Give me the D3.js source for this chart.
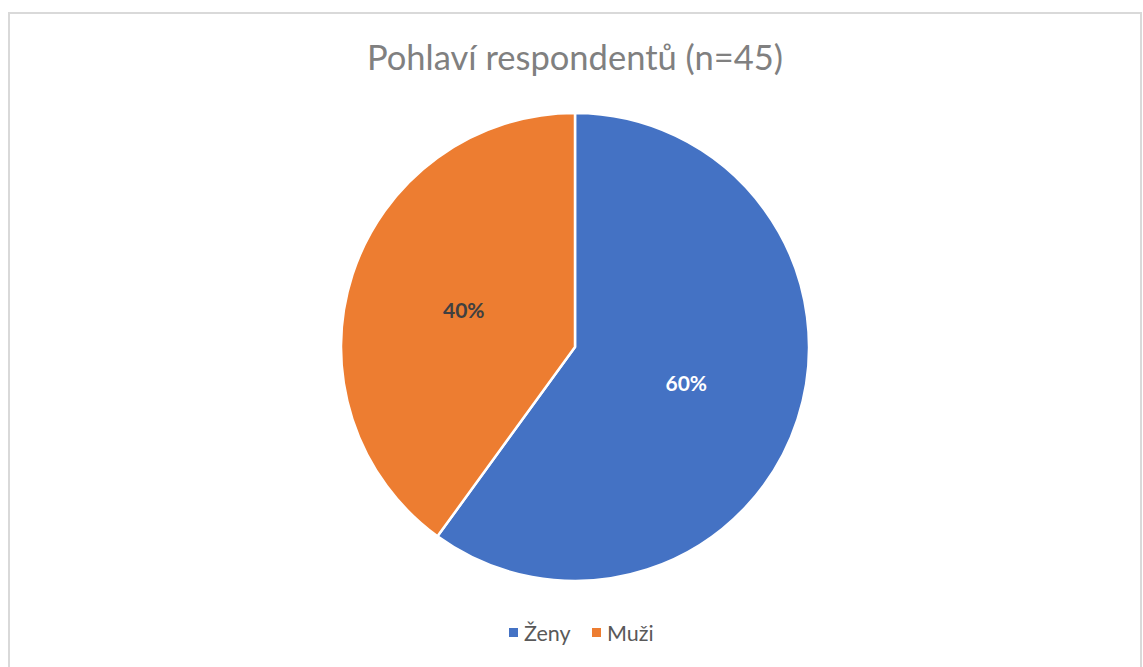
<!DOCTYPE html>
<html><head><meta charset="utf-8">
<script src="https://cdn.jsdelivr.net/npm/d3@7"></script>
<style>body{margin:0;background:#fff}svg{display:block}</style>
</head><body><svg id="c" width="1143" height="667"></svg>
<script>
const categories = ["Ženy", "Muži"];
const values = [27, 18];
const colors = ["#4472C4", "#ED7D31"];
const labelColors = ["#ffffff", "#404040"];
const title = "Pohlaví respondentů (n=45)";

const svg = d3.select("#c");
const font = "Lato, 'Open Sans', sans-serif";
svg.append("rect").attr("x", 9).attr("y", 13).attr("width", 1132).attr("height", 670)
  .attr("fill", "#fff").attr("stroke", "#d9d9d9").attr("stroke-width", 2);

svg.append("text").attr("x", 575).attr("y", 70).attr("text-anchor", "middle")
  .attr("font-family", font).attr("font-size", 34.5).attr("fill", "#808080").text(title);

const cx = 575, cy = 347, r = 234;
const total = d3.sum(values);
const pie = d3.pie().sort(null).value(d => d)(values);
const arc = d3.arc().innerRadius(0).outerRadius(r);
const g = svg.append("g").attr("transform", `translate(${cx},${cy})`);
g.selectAll("path").data(pie).join("path").attr("d", arc)
  .attr("fill", (d, i) => colors[i]).attr("stroke", "#fff").attr("stroke-width", 2.5).attr("stroke-linejoin", "round");
g.selectAll("text").data(pie).join("text")
  .attr("transform", d => `translate(${arc.centroid(d)})`)
  .attr("text-anchor", "middle").attr("dy", "0.35em")
  .attr("font-family", font).attr("font-weight", "bold").attr("font-size", 21)
  .attr("fill", (d, i) => labelColors[i])
  .text(d => Math.round(d.data / total * 100) + "%");

const legX = [509, 592];
const leg = svg.append("g");
categories.forEach((c, i) => {
  leg.append("rect").attr("x", legX[i]).attr("y", 628).attr("width", 9).attr("height", 9).attr("fill", colors[i]);
  leg.append("text").attr("x", legX[i] + 15).attr("y", 641).attr("font-family", font)
    .attr("font-size", 21.5).attr("fill", "#595959").text(c);
});
</script></body></html>
